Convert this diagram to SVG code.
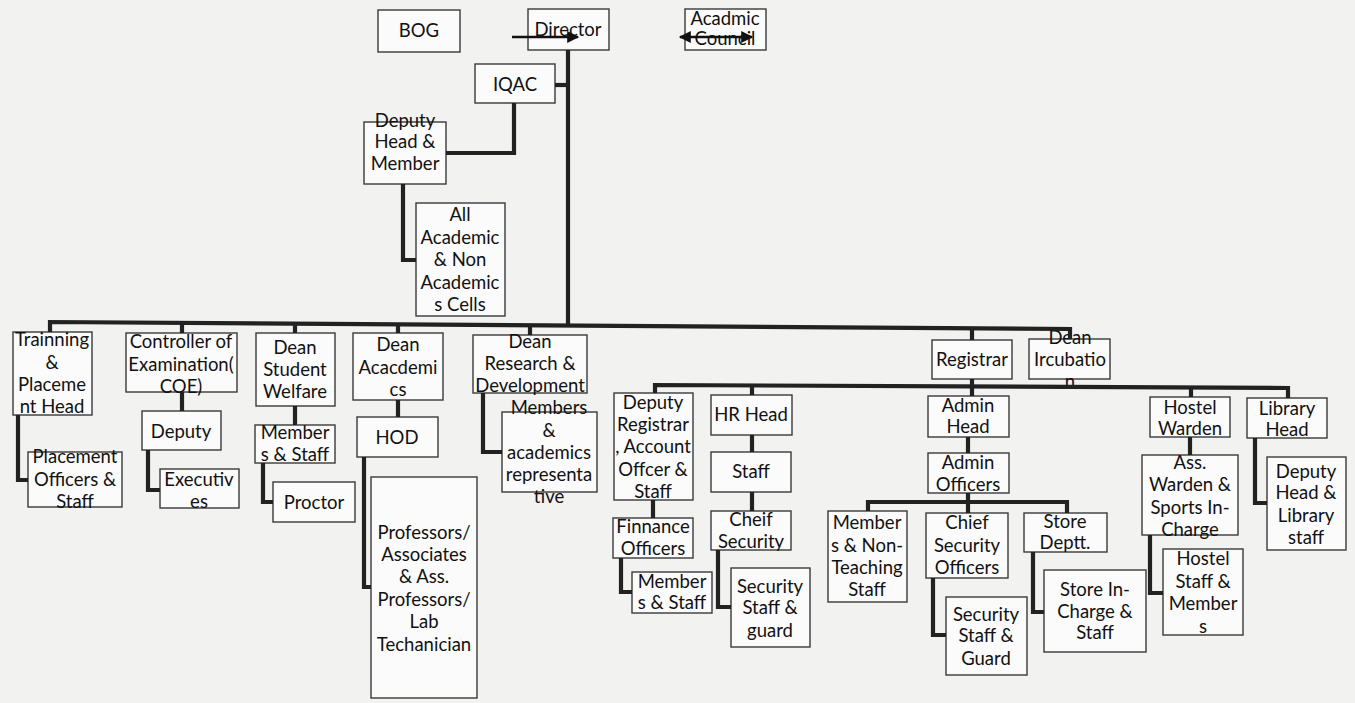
<svg xmlns="http://www.w3.org/2000/svg" width="1355" height="703" viewBox="0 0 1355 703">
<defs>
<style>
.bx{fill:#fbfbfb;stroke:#3a3a3a;stroke-width:1.4}
.t{font-family:Lato,"Liberation Sans",sans-serif;font-size:18.5px;fill:#111;text-anchor:middle}
.c{fill:none;stroke:#222;stroke-width:4.2;stroke-linejoin:miter}
.ar{fill:none;stroke:#111;stroke-width:2.6}
</style>
<marker id="ah" viewBox="0 0 10 10" refX="9" refY="5" markerUnits="userSpaceOnUse" markerWidth="14" markerHeight="12" orient="auto-start-reverse"><path d="M0,0 L10,5 L0,10 z" fill="#111"/></marker>
</defs>
<rect x="0" y="0" width="1355" height="703" fill="#f2f2f1"/>

<g id="nodes">
<g id="bog"><rect class="bx" x="378" y="10" width="82" height="42"/><text class="t" x="419" y="37">BOG</text></g>
<g id="director"><rect class="bx" x="528" y="9" width="81" height="41"/><text class="t" x="568" y="36">Director</text></g>
<g id="acadcouncil"><rect class="bx" x="685" y="9" width="81" height="41"/><text class="t" x="725" y="25">Acadmic</text><text class="t" x="725" y="45">Council</text></g>
<g id="iqac"><rect class="bx" x="475" y="64" width="80" height="39"/><text class="t" x="515" y="91">IQAC</text></g>
<g id="deputyhead"><rect class="bx" x="364" y="122" width="82" height="62"/><text class="t" x="405" y="127">Deputy</text><text class="t" x="405" y="148">Head &amp;</text><text class="t" x="405" y="170">Member</text></g>
<g id="allcells"><rect class="bx" x="416" y="203" width="89" height="113"/><text class="t" x="460" y="221">All</text><text class="t" x="460" y="244">Academic</text><text class="t" x="460" y="266">&amp; Non</text><text class="t" x="460" y="289">Academic</text><text class="t" x="460" y="311">s Cells</text></g>

<g id="training"><rect class="bx" x="13" y="332" width="79" height="83"/><text class="t" x="52" y="346">Trainning</text><text class="t" x="52" y="369">&amp;</text><text class="t" x="52" y="391">Placeme</text><text class="t" x="52" y="413">nt Head</text></g>
<g id="placement"><rect class="bx" x="28" y="452" width="94" height="55"/><text class="t" x="75" y="463">Placement</text><text class="t" x="75" y="486">Officers &amp;</text><text class="t" x="75" y="508">Staff</text></g>
<g id="coe"><rect class="bx" x="126" y="333" width="111" height="59"/><text class="t" x="181" y="348">Controller of</text><text class="t" x="181" y="371">Examination(</text><text class="t" x="181" y="393">COE)</text></g>
<g id="deputy"><rect class="bx" x="142" y="411" width="79" height="39"/><text class="t" x="181" y="438">Deputy</text></g>
<g id="executives"><rect class="bx" x="160" y="469" width="79" height="39"/><text class="t" x="199" y="486">Executiv</text><text class="t" x="199" y="508">es</text></g>
<g id="dsw"><rect class="bx" x="256" y="333" width="79" height="73"/><text class="t" x="295" y="354">Dean</text><text class="t" x="295" y="376">Student</text><text class="t" x="295" y="398">Welfare</text></g>
<g id="dswstaff"><rect class="bx" x="255" y="425" width="80" height="38"/><text class="t" x="295" y="439">Member</text><text class="t" x="295" y="461">s &amp; Staff</text></g>
<g id="proctor"><rect class="bx" x="273" y="482" width="82" height="40"/><text class="t" x="314" y="509">Proctor</text></g>
<g id="deanacad"><rect class="bx" x="353" y="333" width="90" height="67"/><text class="t" x="398" y="351">Dean</text><text class="t" x="398" y="374">Acacdemi</text><text class="t" x="398" y="396">cs</text></g>
<g id="hod"><rect class="bx" x="357" y="417" width="81" height="40"/><text class="t" x="397" y="444">HOD</text></g>
<g id="professors"><rect class="bx" x="371" y="477" width="106" height="221"/><text class="t" x="424" y="539">Professors/</text><text class="t" x="424" y="561">Associates</text><text class="t" x="424" y="583">&amp; Ass.</text><text class="t" x="424" y="606">Professors/</text><text class="t" x="424" y="628">Lab</text><text class="t" x="424" y="651">Techanician</text></g>
<g id="drd"><rect class="bx" x="473" y="335" width="114" height="58"/><text class="t" x="530" y="348">Dean</text><text class="t" x="530" y="370">Research &amp;</text><text class="t" x="530" y="392">Development</text></g>
<g id="drdmembers"><rect class="bx" x="502" y="412" width="95" height="80"/><text class="t" x="549" y="414">Members</text><text class="t" x="549" y="437">&amp;</text><text class="t" x="549" y="459">academics</text><text class="t" x="549" y="481">representa</text><text class="t" x="549" y="503">tive</text></g>

<g id="registrar"><rect class="bx" x="932" y="340" width="80" height="39"/><text class="t" x="972" y="366">Registrar</text></g>
<g id="deanincubation"><rect class="bx" x="1029" y="339" width="81" height="40"/><text class="t" x="1070" y="344">Dean</text><text class="t" x="1070" y="366">Ircubatio</text><text class="t" x="1070" y="388">n</text></g>
<g id="depregistrar"><rect class="bx" x="614" y="393" width="79" height="107"/><text class="t" x="653" y="409">Deputy</text><text class="t" x="653" y="431">Registrar</text><text class="t" x="653" y="453">, Account</text><text class="t" x="653" y="476">Offcer &amp;</text><text class="t" x="653" y="498">Staff</text></g>
<g id="finance"><rect class="bx" x="613" y="518" width="80" height="40"/><text class="t" x="653" y="533">Finnance</text><text class="t" x="653" y="555">Officers</text></g>
<g id="finstaff"><rect class="bx" x="632" y="572" width="80" height="41"/><text class="t" x="672" y="588">Member</text><text class="t" x="672" y="609">s &amp; Staff</text></g>
<g id="hrhead"><rect class="bx" x="711" y="395" width="81" height="40"/><text class="t" x="751" y="421">HR Head</text></g>
<g id="hrstaff"><rect class="bx" x="711" y="452" width="80" height="40"/><text class="t" x="751" y="478">Staff</text></g>
<g id="cheifsec"><rect class="bx" x="711" y="511" width="80" height="39"/><text class="t" x="751" y="526">Cheif</text><text class="t" x="751" y="548">Security</text></g>
<g id="secstaff1"><rect class="bx" x="731" y="568" width="79" height="79"/><text class="t" x="770" y="593">Security</text><text class="t" x="770" y="614">Staff &amp;</text><text class="t" x="770" y="637">guard</text></g>
<g id="adminhead"><rect class="bx" x="928" y="396" width="81" height="41"/><text class="t" x="968" y="412">Admin</text><text class="t" x="968" y="433">Head</text></g>
<g id="adminofficers"><rect class="bx" x="928" y="453" width="81" height="40"/><text class="t" x="968" y="469">Admin</text><text class="t" x="968" y="491">Officers</text></g>
<g id="nonteaching"><rect class="bx" x="828" y="511" width="79" height="91"/><text class="t" x="867" y="529">Member</text><text class="t" x="867" y="552">s &amp; Non-</text><text class="t" x="867" y="574">Teaching</text><text class="t" x="867" y="596">Staff</text></g>
<g id="chiefsecoff"><rect class="bx" x="926" y="513" width="82" height="65"/><text class="t" x="967" y="529">Chief</text><text class="t" x="967" y="552">Security</text><text class="t" x="967" y="574">Officers</text></g>
<g id="secstaff2"><rect class="bx" x="946" y="597" width="81" height="78"/><text class="t" x="986" y="621">Security</text><text class="t" x="986" y="642">Staff &amp;</text><text class="t" x="986" y="665">Guard</text></g>
<g id="storedept"><rect class="bx" x="1024" y="513" width="83" height="39"/><text class="t" x="1065" y="528">Store</text><text class="t" x="1065" y="549">Deptt.</text></g>
<g id="storeincharge"><rect class="bx" x="1044" y="570" width="102" height="82"/><text class="t" x="1095" y="596">Store In-</text><text class="t" x="1095" y="618">Charge &amp;</text><text class="t" x="1095" y="639">Staff</text></g>
<g id="hostelwarden"><rect class="bx" x="1150" y="397" width="80" height="40"/><text class="t" x="1190" y="414">Hostel</text><text class="t" x="1190" y="435">Warden</text></g>
<g id="asswarden"><rect class="bx" x="1142" y="455" width="96" height="80"/><text class="t" x="1190" y="469">Ass.</text><text class="t" x="1190" y="491">Warden &amp;</text><text class="t" x="1190" y="514">Sports In-</text><text class="t" x="1190" y="536">Charge</text></g>
<g id="hostelstaff"><rect class="bx" x="1163" y="549" width="80" height="86"/><text class="t" x="1203" y="565">Hostel</text><text class="t" x="1203" y="588">Staff &amp;</text><text class="t" x="1203" y="610">Member</text><text class="t" x="1203" y="633">s</text></g>
<g id="libraryhead"><rect class="bx" x="1247" y="398" width="80" height="40"/><text class="t" x="1287" y="415">Library</text><text class="t" x="1287" y="436">Head</text></g>
<g id="libstaff"><rect class="bx" x="1267" y="457" width="79" height="93"/><text class="t" x="1306" y="478">Deputy</text><text class="t" x="1306" y="499">Head &amp;</text><text class="t" x="1306" y="522">Library</text><text class="t" x="1306" y="544">staff</text></g>
</g>

<g id="connectors">
<path class="c" d="M568,50 V326"/>
<path class="c" d="M555,85 H568"/>
<path class="c" d="M514,103 V153 H446"/>
<path class="c" d="M403,184 V260 H416"/>
<path class="c" d="M50,332 V322 L1070,329 V339"/>
<path class="c" d="M182,323 V333 M295,324 V333 M398,324 V333 M530,325 V335 M972,328 V340"/>
<path class="c" d="M18,415 V480 H28"/>
<path class="c" d="M182,392 V411"/>
<path class="c" d="M148,450 V490 H160"/>
<path class="c" d="M295,406 V425"/>
<path class="c" d="M263,463 V502 H273"/>
<path class="c" d="M398,400 V417"/>
<path class="c" d="M364,457 V587 H371"/>
<path class="c" d="M483,393 V452 H502"/>
<path class="c" d="M655,393 V385 L1288,388 V398"/>
<path class="c" d="M752,386 V395 M1191,388 V397 M972,379 V396"/>
<path class="c" d="M653,500 V518"/>
<path class="c" d="M621,558 V592 H632"/>
<path class="c" d="M752,435 V452 M752,492 V511"/>
<path class="c" d="M718,550 V607 H731"/>
<path class="c" d="M968,437 V453"/>
<path class="c" d="M868,511 V502 H1067 V513 M968,493 V513"/>
<path class="c" d="M933,578 V635 H946"/>
<path class="c" d="M1033,552 V612 H1044"/>
<path class="c" d="M1190,437 V455"/>
<path class="c" d="M1150,535 V593 H1163"/>
<path class="c" d="M1255,438 V503 H1267"/>
<path class="ar" d="M512,37 H578" marker-end="url(#ah)"/>
<path class="ar" d="M680,37 H752" marker-start="url(#ah)" marker-end="url(#ah)"/>
</g>
</svg>
